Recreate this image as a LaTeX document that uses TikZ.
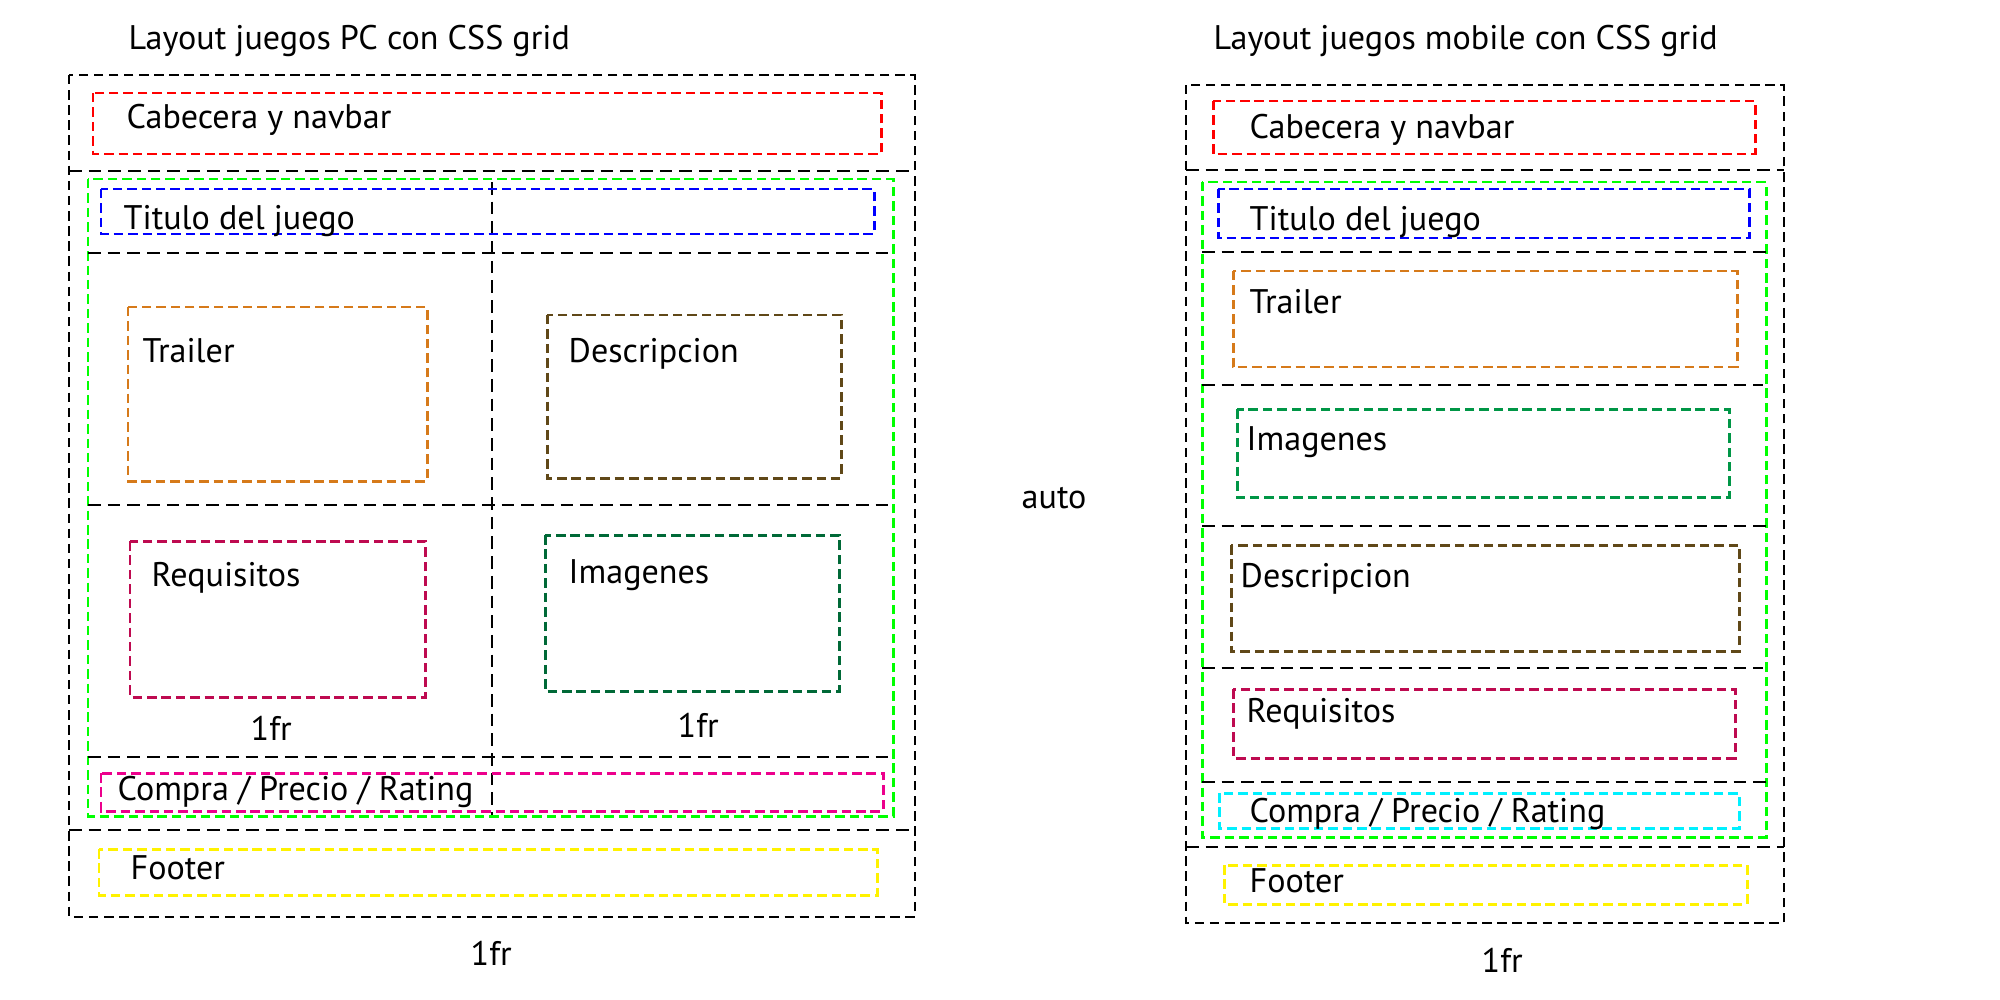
\documentclass[tikz,border=0pt]{standalone}
\usepackage{fontspec}
\setmainfont{PT Sans}
\definecolor{gridGreen}{RGB}{0,255,0}
\definecolor{trailerOrange}{RGB}{214,122,26}
\definecolor{descBrown}{RGB}{96,72,24}
\definecolor{reqCrimson}{RGB}{190,10,80}
\definecolor{imgGreen}{RGB}{0,105,55}
\definecolor{imgGreenM}{RGB}{0,150,70}
\definecolor{buyCyan}{RGB}{0,240,255}

\begin{document}
\begin{tikzpicture}[
  x=0.01cm, y=-0.01cm,
  every node/.style = {inner sep=0pt, anchor=base west, font=\fontsize{9.7}{11}\selectfont},
  frame/.style = {draw=black, line width=0.65pt, dash pattern=on 2.7pt off 1.6pt},
  cell/.style = {draw=black, line width=0.3pt, dash pattern=on 3.6pt off 2pt},
  area/.style = {draw=#1, line width=0.85pt, dash pattern=on 2.7pt off 1.4pt}
]
  \useasboundingbox (0,0) rectangle (2000,1000);

  % layout PC
  \node (pcTitle) at (128,49) {Layout juegos PC con CSS grid};
  \draw[frame] (69,75) rectangle (915,917);
  \draw[cell] (69,171) -- (915,171);
  \draw[cell] (69,830) -- (915,830);
  \draw[area=gridGreen] (88,179) rectangle (893,816);
  \draw[cell] (88,253) -- (893,253);
  \draw[cell] (88,505) -- (893,505);
  \draw[cell] (88,757) -- (893,757);
  \draw[cell] (492,182) -- (492,815);

  \draw[area=red] (93,93) rectangle (881,154);
  \node (pcHead) at (126,128) {Cabecera y navbar};
  \draw[area=blue] (101,189) rectangle (874,234);
  \node (pcTitulo) at (123,229) {Titulo del juego};
  \draw[area=trailerOrange] (128,307) rectangle (427,481);
  \node (pcTrailer) at (142,362) {Trailer};
  \draw[area=descBrown] (547,315) rectangle (841,478);
  \node (pcDesc) at (568,362) {Descripcion};
  \draw[area=reqCrimson] (130,541) rectangle (425,697);
  \node (pcReq) at (151,586) {Requisitos};
  \draw[area=imgGreen] (545,535) rectangle (839,691);
  \node (pcImg) at (568,583) {Imagenes};
  \node (pcColA) at (250,740) {1fr};
  \node (pcColB) at (677,737) {1fr};
  \draw[area=magenta] (101,773) rectangle (883,811);
  \node (pcBuy) at (117,800) {Compra / Precio / Rating};
  \draw[area=yellow] (99,849) rectangle (877,895);
  \node (pcFooter) at (130,879) {Footer};
  \node (pcWidth) at (470,965) {1fr};

  \node (rowAuto) at (1021,508) {auto};

  % layout mobile
  \node (mbTitle) at (1213,49) {Layout juegos mobile con CSS grid};
  \draw[frame] (1186,85) rectangle (1784,923);
  \draw[cell] (1186,170) -- (1784,170);
  \draw[cell] (1186,847) -- (1784,847);
  \draw[area=gridGreen] (1202,182) rectangle (1766,837);
  \draw[cell] (1202,252) -- (1766,252);
  \draw[cell] (1202,385) -- (1763,385);
  \draw[cell] (1202,526) -- (1766,526);
  \draw[cell] (1202,668) -- (1763,668);
  \draw[cell] (1202,782) -- (1766,782);

  \draw[area=red] (1213,101) rectangle (1755,154);
  \node (mbHead) at (1249,138) {Cabecera y navbar};
  \draw[area=blue] (1218,189) rectangle (1749,238);
  \node (mbTitulo) at (1249,230) {Titulo del juego};
  \draw[area=trailerOrange] (1233,271) rectangle (1737,367);
  \node (mbTrailer) at (1249,313) {Trailer};
  \draw[area=imgGreenM] (1237,409) rectangle (1729,497);
  \node (mbImg) at (1246,450) {Imagenes};
  \draw[area=descBrown] (1231,545) rectangle (1739,651);
  \node (mbDesc) at (1240,587) {Descripcion};
  \draw[area=reqCrimson] (1233,689) rectangle (1735,758);
  \node (mbReq) at (1246,722) {Requisitos};
  \draw[area=buyCyan] (1219,793) rectangle (1739,828);
  \node (mbBuy) at (1249,822) {Compra / Precio / Rating};
  \draw[area=yellow] (1224,865) rectangle (1747,904);
  \node (mbFooter) at (1249,892) {Footer};
  \node (mbWidth) at (1481,972) {1fr};
\end{tikzpicture}
\end{document}
